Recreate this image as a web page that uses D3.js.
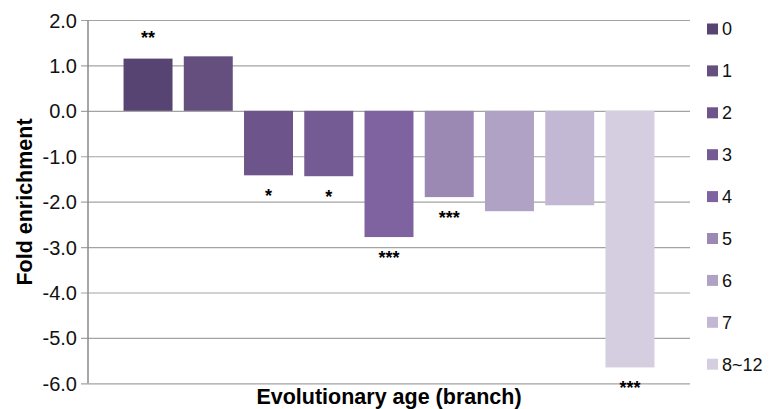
<!DOCTYPE html>
<html>
<head>
<meta charset="utf-8">
<script src="https://cdn.jsdelivr.net/npm/d3@7"></script>
<style>
  html, body { margin: 0; padding: 0; background: #fff; }
  svg { display: block; font-family: "Liberation Sans", Arial, Helvetica, sans-serif; }
</style>
</head>
<body>
<svg id="chart" width="769" height="409"></svg>
<script>
// Branch categories (evolutionary age) and fold enrichment per branch
const branches = ["0", "1", "2", "3", "4", "5", "6", "7", "8~12"];
const enrichment = [1.15, 1.20, -1.42, -1.44, -2.78, -1.90, -2.21, -2.08, -5.65];
const significance = ["**", "", "*", "*", "***", "***", "", "", "***"];
const barColors = ["#574472", "#644f7f", "#6d548a", "#755b93", "#7f63a0", "#9b88b3", "#b0a2c5", "#c2b8d3", "#d4cee0"];
const yTicks = [2, 1, 0, -1, -2, -3, -4, -5, -6];

const svg = d3.select("#chart");
const plot = { left: 88, right: 690, top: 20, bottom: 383.3 };

const x = d3.scaleBand()
  .domain(branches)
  .range([plot.left, plot.right])
  .paddingInner(0.187)
  .paddingOuter(0.59);

const y = d3.scaleLinear()
  .domain([-6, 2])
  .range([plot.bottom, plot.top]);

// Horizontal gridlines with short outside ticks
const yAxis = d3.axisLeft(y)
  .tickValues(yTicks)
  .tickSize(-(plot.right - plot.left))
  .tickFormat(d => d.toFixed(1));

const gAxis = svg.append("g")
  .attr("transform", `translate(${plot.left},0)`)
  .call(yAxis);
gAxis.attr("font-size", null).attr("font-family", null);
gAxis.select(".domain").remove();
gAxis.selectAll(".tick line")
  .attr("x1", -7)
  .attr("stroke", "#a3a3a3")
  .attr("stroke-width", 1.2);
gAxis.selectAll(".tick text")
  .attr("font-size", 20)
  .attr("fill", "#111")
  .attr("x", -11)
  .attr("dy", "0.35em");

// Left axis line
svg.append("line")
  .attr("x1", plot.left).attr("x2", plot.left)
  .attr("y1", plot.top).attr("y2", plot.bottom)
  .attr("stroke", "#8a8a8a")
  .attr("stroke-width", 1.5);

// Bars
svg.append("g").selectAll("rect")
  .data(branches)
  .join("rect")
  .attr("x", d => x(d))
  .attr("width", x.bandwidth())
  .attr("y", (d, i) => y(Math.max(0, enrichment[i])))
  .attr("height", (d, i) => Math.abs(y(enrichment[i]) - y(0)))
  .attr("fill", (d, i) => barColors[i]);

// Significance stars beside each bar end
svg.append("g").selectAll("text")
  .data(branches)
  .join("text")
  .attr("x", d => x(d) + x.bandwidth() / 2)
  .attr("y", (d, i) => enrichment[i] >= 0 ? y(enrichment[i]) - 14.5 : y(enrichment[i]) + 27)
  .attr("text-anchor", "middle")
  .attr("font-size", 18)
  .attr("font-weight", "bold")
  .attr("fill", "#000")
  .text((d, i) => significance[i]);

// Axis titles
svg.append("text")
  .attr("transform", `translate(32,202) rotate(-90)`)
  .attr("text-anchor", "middle")
  .attr("font-size", 21.5)
  .attr("font-weight", "bold")
  .attr("fill", "#000")
  .text("Fold enrichment");

svg.append("text")
  .attr("x", 389)
  .attr("y", 404)
  .attr("text-anchor", "middle")
  .attr("font-size", 21.5)
  .attr("font-weight", "bold")
  .attr("fill", "#000")
  .text("Evolutionary age (branch)");

// Legend
const legend = svg.append("g").selectAll("g")
  .data(branches)
  .join("g")
  .attr("transform", (d, i) => `translate(707,${29 + i * 41.9})`);
legend.append("rect")
  .attr("x", 0).attr("y", -5.5)
  .attr("width", 11).attr("height", 11)
  .attr("fill", (d, i) => barColors[i]);
legend.append("text")
  .attr("x", 15)
  .attr("y", 0)
  .attr("dy", "0.36em")
  .attr("font-size", 18)
  .attr("fill", "#111")
  .text(d => d);
</script>
</body>
</html>
